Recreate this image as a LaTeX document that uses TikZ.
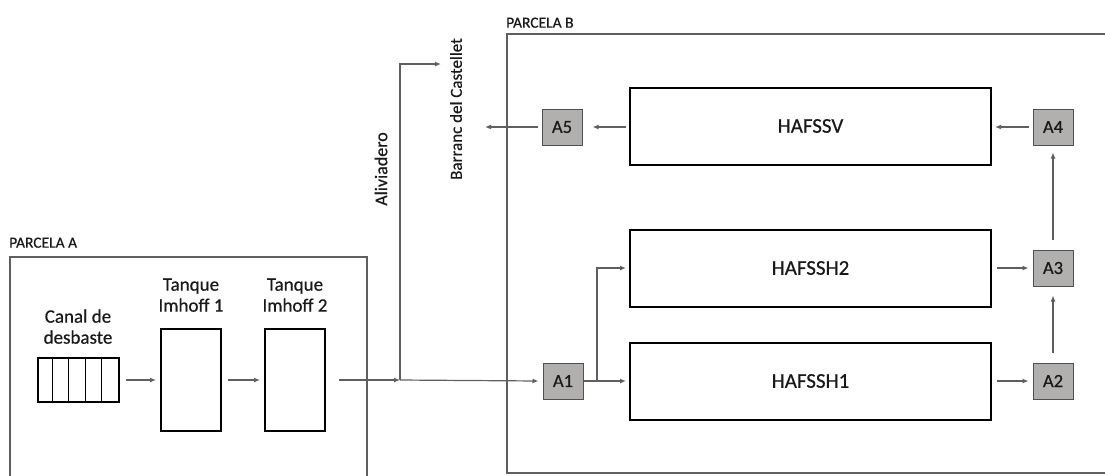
\documentclass[tikz,border=0pt]{standalone}
\usepackage{fontspec}
\setmainfont{Carlito}[BoldFont=Carlito, BoldFeatures={FakeBold=0.5}]
\usepackage{xcolor}
\usetikzlibrary{arrows.meta, positioning, calc}

\definecolor{ptfill}{RGB}{178,175,175}
\definecolor{linegray}{RGB}{95,95,95}
\definecolor{ptdraw}{RGB}{80,80,80}

\begin{document}
\begin{tikzpicture}[
  x=1pt, y=-1pt,
  every node/.append style={text=black!90, font=\bfseries},
  parcel/.style={draw=linegray, line width=1.4pt},
  plabel/.style={anchor=south west, inner sep=0pt, font=\bfseries\fontsize{15.5}{17}\selectfont},
  unit/.style={draw, line width=2pt, minimum width=#1, inner sep=0pt},
  unit/.default=60,
  ptbox/.style={draw=ptdraw, fill=ptfill, line width=1pt, minimum width=40pt,
                minimum height=36pt, inner sep=0pt, font=\bfseries\fontsize{18.5}{20}\selectfont},
  hafss/.style={draw, line width=2pt, minimum width=361pt, minimum height=77pt,
                inner sep=0pt, font=\bfseries\fontsize{21}{23}\selectfont},
  lbl/.style={align=center, inner sep=0pt, font=\bfseries\fontsize{19}{21}\selectfont},
  vlbl/.style={rotate=90, inner sep=0pt, font=\bfseries\fontsize{18}{20}\selectfont},
  flow/.style={-{Latex[length=6pt, width=5pt]}, draw=linegray, line width=1.2pt}
]
  \clip (0,0) rectangle (1105,475);

  % parcels
  \draw[parcel] (10,257) rectangle (367,520);
  \draw[parcel] (507,34) rectangle (1130,473);
  \node[plabel] (parA) at (9,248) {PARCELA A};
  \node[plabel] (parB) at (506,28) {PARCELA B};

  % pretreatment
  \node[draw, line width=2pt, minimum width=81pt, minimum height=44pt, inner sep=0pt] (canal) at (78,380) {};
  \foreach \i in {1,...,4}
    \draw[line width=1pt] ($(canal.south west)+(16.2*\i,0)$) -- ($(canal.north west)+(16.2*\i,0)$);
  \node[unit, minimum height=102pt] (t1) at (191,380) {};
  \node[unit, minimum height=102pt] (t2) at (295,380) {};
  \node[lbl, above=13pt of canal] (canalL) {Canal de\\desbaste};
  \node[lbl, above=16pt of t1] (t1L) {Tanque\\Imhoff 1};
  \node[lbl, above=16pt of t2] (t2L) {Tanque\\Imhoff 2};

  % wetlands
  \node[hafss] (hv) at (810.5,126) {HAFSSV};
  \node[hafss] (h2) at (810.5,268) {HAFSSH2};
  \node[hafss] (h1) at (810.5,381) {HAFSSH1};

  % sampling points
  \node[ptbox] (a1) at (563,381) {A1};
  \node[ptbox] (a2) at (1053,381) {A2};
  \node[ptbox] (a3) at (1053,268) {A3};
  \node[ptbox] (a4) at (1053,127) {A4};
  \node[ptbox] (a5) at (562,127) {A5};

  % outlets
  \node[vlbl] (aliv) at (381,169) {Aliviadero};
  \node[vlbl, font=\bfseries\fontsize{17}{19}\selectfont] (barr) at (456,109) {Barranc del Castellet};
  \coordinate (jct) at (400,380);
  \coordinate (alivtop) at (400,64);
  \coordinate (alivout) at (441,64);
  \coordinate (barrin) at (485,127);
  \coordinate (split) at (597,381);

  \draw[flow] ([xshift=6pt]canal.east) -- ([xshift=-4pt]t1.west);
  \draw[flow] ([xshift=6pt]t1.east) -- ([xshift=-4pt]t2.west);
  \draw[flow] ([xshift=13pt]t2.east) -- (jct);
  \draw[flow] (jct) -- ([xshift=-4pt]a1.west);
  \draw[flow] (jct) -- (alivtop) -- (alivout);
  \draw[flow] (a1.east) -- ([xshift=-3pt]h1.west);
  \draw[flow] (split) |- ([xshift=-3pt]h2.west);
  \draw[flow] ([xshift=5pt]h1.east) -- ([xshift=-4pt]a2.west);
  \draw[flow] ([xshift=5pt]h2.east) -- ([xshift=-4pt]a3.west);
  \draw[flow] ([yshift=10pt]a2.north) -- ([yshift=-9pt]a3.south);
  \draw[flow] ([yshift=10pt]a3.north) -- ([yshift=-7pt]a4.south);
  \draw[flow] ([xshift=-4pt]a4.west) -- ([xshift=3pt]a4.west -| hv.east);
  \draw[flow] ([xshift=-3pt]hv.west |- a5.east) -- ([xshift=10pt]a5.east);
  \draw[flow] ([xshift=-4pt]a5.west) -- (barrin);
\end{tikzpicture}
\end{document}
